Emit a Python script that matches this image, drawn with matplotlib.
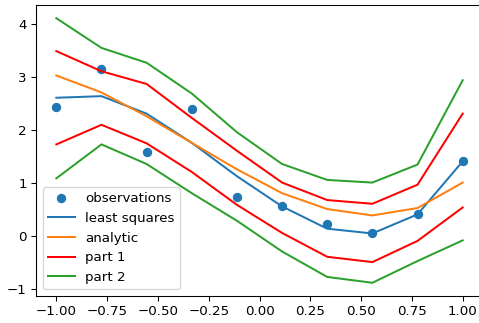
import numpy as np
import matplotlib
matplotlib.use("Agg")
import matplotlib.pyplot as plt

x = np.linspace(-1, 1, 10)
observations = [2.43, 3.15, 1.57, 2.38, 0.72, 0.55, 0.22, 0.04, 0.40, 1.40]
least_squares = [2.60, 2.63, 2.30, 1.75, 1.12, 0.55, 0.13, 0.04, 0.40, 1.40]
analytic = [3.02, 2.70, 2.25, 1.75, 1.25, 0.80, 0.50, 0.38, 0.52, 1.00]
part1_upper = [3.48, 3.10, 2.86, 2.22, 1.60, 1.00, 0.67, 0.60, 0.96, 2.30]
part1_lower = [1.72, 2.09, 1.74, 1.20, 0.58, 0.05, -0.40, -0.50, -0.10, 0.53]
part2_upper = [4.10, 3.54, 3.26, 2.68, 1.95, 1.35, 1.05, 1.00, 1.34, 2.93]
part2_lower = [1.08, 1.72, 1.35, 0.80, 0.28, -0.30, -0.78, -0.89, -0.48, -0.09]

W, H, DPI = 479, 323, 96
fig = plt.figure(figsize=(W/DPI, H/DPI), dpi=DPI)
ax = fig.add_axes([36/W, 27/H, 447/W, 291/H])

ax.plot(x, observations, 'o', color='C0', label='observations')
ax.plot(x, least_squares, color='C0', label='least squares')
ax.plot(x, analytic, color='C1', label='analytic')
ax.plot(x, part1_upper, color='r', label='part 1')
ax.plot(x, part1_lower, color='r')
ax.plot(x, part2_upper, color='tab:green', label='part 2')
ax.plot(x, part2_lower, color='tab:green')
ax.set_xticks([-1.0, -0.75, -0.5, -0.25, 0.0, 0.25, 0.5, 0.75, 1.0])
ax.legend(loc='lower left')

fig.savefig('out.png', dpi=DPI)
